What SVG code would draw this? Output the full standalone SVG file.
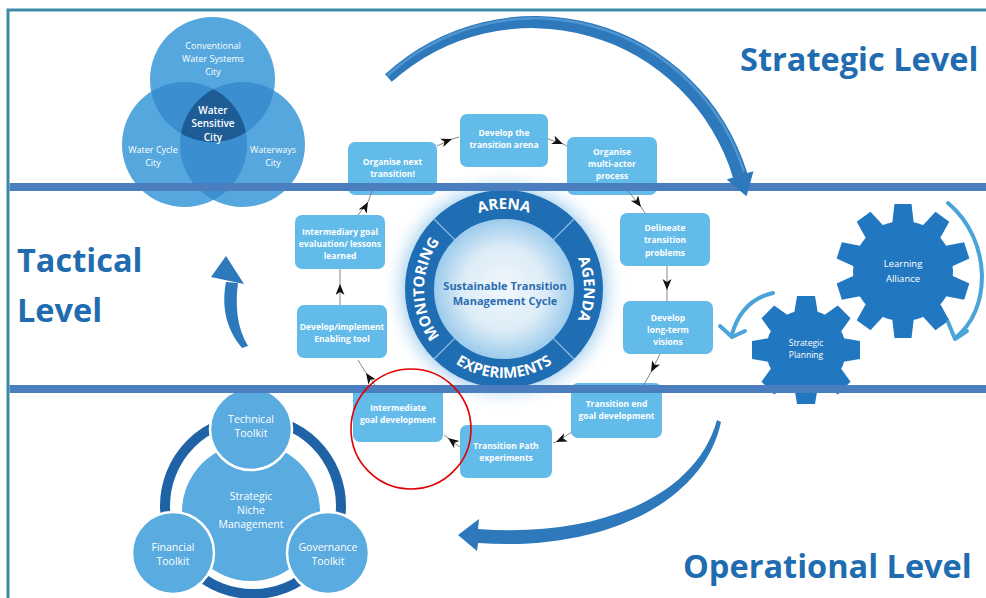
<svg xmlns="http://www.w3.org/2000/svg" xmlns:xlink="http://www.w3.org/1999/xlink" width="986" height="598" viewBox="0 0 986 598">
<style>
.box{fill:#63bbe9}
.bt{font-family:'Open Sans','Liberation Sans',Arial,sans-serif;font-size:8.5px;font-weight:700;fill:#fff;text-anchor:middle}
.wt{font-family:'Open Sans','Liberation Sans',Arial,sans-serif;fill:#fff;text-anchor:middle}
.lvl{font-family:'Open Sans','Liberation Sans',Arial,sans-serif;font-size:32.5px;font-weight:700;fill:#1f6cb0}
.ring{font-family:'Open Sans','Liberation Sans',Arial,sans-serif;font-size:15px;font-weight:700;fill:#fff}
.con{fill:none;stroke:#7a7a7a;stroke-width:0.9;marker-mid:url(#ah)}
.band{fill:#4a7ebf}
.big{fill:#2d79bc}
.gear{fill:#2278c0}
.lb{fill:none;stroke:#4aa3d9;stroke-width:4;stroke-linecap:round;stroke-linejoin:round}
.snm{fill:#5aabe0;stroke:#fff;stroke-width:2.5}
</style>
<defs>
<marker id="ah" markerUnits="userSpaceOnUse" markerWidth="12" markerHeight="10" refX="11" refY="4.5" orient="auto">
<path d="M0,0 L11,4.5 L0,9 L3,4.5 Z" fill="#111"/>
</marker>
<radialGradient id="glow" cx="504" cy="289" r="122" gradientUnits="userSpaceOnUse">
<stop offset="0.78" stop-color="#a9d2ef"/>
<stop offset="1" stop-color="#ffffff" stop-opacity="0"/>
</radialGradient>
<radialGradient id="disk" cx="504" cy="289" r="70" gradientUnits="userSpaceOnUse">
<stop offset="0" stop-color="#f2f8fc"/>
<stop offset="0.6" stop-color="#dcecf7"/>
<stop offset="1" stop-color="#9ccbec"/>
</radialGradient>
<clipPath id="cTop"><circle cx="212.5" cy="79.5" r="62.5"/></clipPath>
<clipPath id="cLeft"><circle cx="184.5" cy="144.5" r="62.5"/></clipPath>
<clipPath id="cRight"><circle cx="242.5" cy="144.5" r="62.5"/></clipPath>
<polygon id="tb" points="-11,-46 -8.5,-67 8.5,-67 11,-46"/>
<polygon id="ts" points="-12,-36 -9,-54 9,-54 12,-36"/>
<path id="pTop" d="M 424 289 A 80 80 0 0 1 584 289"/>
<path id="pRight" d="M 504 209 A 80 80 0 0 1 504 369"/>
<path id="pLeft" d="M 504 369 A 80 80 0 0 1 504 209"/>
<path id="pBot" d="M 415 289 A 89 89 0 0 0 593 289"/>
</defs>

<rect width="986" height="598" fill="#fff"/>
<path d="M 8 598 L 8 10 L 986 10" fill="none" stroke="#3a8aa8" stroke-width="3"/>

<g id="venn">
<circle cx="212.5" cy="79.5" r="62.5" fill="#55a7de"/>
<circle cx="184.5" cy="144.5" r="62.5" fill="#55a7de"/>
<circle cx="242.5" cy="144.5" r="62.5" fill="#55a7de"/>
<g clip-path="url(#cTop)"><circle cx="184.5" cy="144.5" r="62.5" fill="#3b8fd0"/><circle cx="242.5" cy="144.5" r="62.5" fill="#3b8fd0"/></g>
<g clip-path="url(#cLeft)"><circle cx="242.5" cy="144.5" r="62.5" fill="#3b8fd0"/></g>
<g clip-path="url(#cTop)"><g clip-path="url(#cLeft)"><circle cx="242.5" cy="144.5" r="62.5" fill="#1d5c94"/></g></g>
<text class="wt" font-size="9" x="213" y="49">Conventional</text>
<text class="wt" font-size="9" x="213" y="62">Water Systems</text>
<text class="wt" font-size="9" x="213" y="75">City</text>
<text class="wt" font-size="10" font-weight="600" x="213" y="114">Water</text>
<text class="wt" font-size="10" font-weight="600" x="213" y="127">Sensitive</text>
<text class="wt" font-size="10" font-weight="600" x="213" y="141">City</text>
<text class="wt" font-size="9" x="153" y="153">Water Cycle</text>
<text class="wt" font-size="9" x="153" y="166">City</text>
<text class="wt" font-size="9" x="273" y="153">Waterways</text>
<text class="wt" font-size="9" x="273" y="166">City</text>
</g>

<g id="cycle">
<circle cx="504" cy="289" r="122" fill="url(#glow)"/>
<circle cx="504" cy="289" r="70" fill="url(#disk)"/>
<circle cx="504" cy="289" r="84.5" fill="none" stroke="#1f6db2" stroke-width="29"/>
<g stroke="#8fc1e8" stroke-width="1.2">
<line x1="552.8" y1="337.8" x2="574" y2="359"/>
<line x1="455.2" y1="337.8" x2="434" y2="359"/>
<line x1="455.2" y1="240.2" x2="434" y2="219"/>
<line x1="552.8" y1="240.2" x2="574" y2="219"/>
</g>
<text class="ring" text-anchor="middle"><textPath href="#pTop" xlink:href="#pTop" startOffset="50%">ARENA</textPath></text>
<text class="ring" text-anchor="middle"><textPath href="#pRight" xlink:href="#pRight" startOffset="50%">AGENDA</textPath></text>
<text class="ring" text-anchor="middle"><textPath href="#pLeft" xlink:href="#pLeft" startOffset="50%">MONITORING</textPath></text>
<text class="ring" text-anchor="middle"><textPath href="#pBot" xlink:href="#pBot" startOffset="50%">EXPERIMENTS</textPath></text>
<text font-family="'Open Sans','Liberation Sans',Arial,sans-serif" font-size="11" font-weight="700" fill="#2a6db0" text-anchor="middle" x="505" y="290">Sustainable Transition</text>
<text font-family="'Open Sans','Liberation Sans',Arial,sans-serif" font-size="11" font-weight="700" fill="#2a6db0" text-anchor="middle" x="505" y="305">Management Cycle</text>
</g>

<g id="n-arena"><rect class="box" x="460" y="114" width="88" height="53" rx="7"/><text class="bt" x="504" y="136">Develop the</text><text class="bt" x="504" y="148">transition arena</text></g>
<g id="n-multi"><rect class="box" x="567" y="137" width="90" height="58" rx="7"/><text class="bt" x="612" y="155">Organise</text><text class="bt" x="612" y="167">multi-actor</text><text class="bt" x="612" y="179">process</text></g>
<g id="n-next"><rect class="box" x="348" y="142" width="89" height="53" rx="7"/><text class="bt" x="392.5" y="165">Organise next</text><text class="bt" x="392.5" y="177">transition!</text></g>
<g id="n-eval"><rect class="box" x="295" y="215" width="90" height="54" rx="7"/><text class="bt" x="340" y="235">Intermediary goal</text><text class="bt" x="340" y="247">evaluation/ lessons</text><text class="bt" x="340" y="259">learned</text></g>
<g id="n-tool"><rect class="box" x="297" y="305" width="90" height="53" rx="7"/><text class="bt" x="342" y="330">Develop/implement</text><text class="bt" x="342" y="342">Enabling tool</text></g>
<g id="n-delin"><rect class="box" x="620" y="213" width="90" height="53" rx="7"/><text class="bt" x="665" y="231">Delineate</text><text class="bt" x="665" y="243">transition</text><text class="bt" x="665" y="256">problems</text></g>
<g id="n-vision"><rect class="box" x="623" y="301" width="90" height="53" rx="7"/><text class="bt" x="668" y="321">Develop</text><text class="bt" x="668" y="333">long-term</text><text class="bt" x="668" y="345">visions</text></g>
<g id="n-endgoal"><rect class="box" x="571" y="383" width="91" height="55" rx="7"/><text class="bt" x="616.5" y="407">Transition end</text><text class="bt" x="616.5" y="419">goal development</text></g>
<g id="n-path"><rect class="box" x="460" y="425" width="92" height="53" rx="7"/><text class="bt" x="506" y="449">Transition Path</text><text class="bt" x="506" y="461">experiments</text></g>
<g id="n-inter"><rect class="box" x="353" y="386" width="90" height="56" rx="7"/><text class="bt" x="398" y="411">Intermediate</text><text class="bt" x="398" y="423">goal development</text></g>

<g id="connectors">
<path class="con" d="M437 146 L452 139 L459 137"/>
<path class="con" d="M548 139 L563 144 L567 146"/>
<path class="con" d="M628 191 L641 207 L645 213"/>
<path class="con" d="M667 266 L667 290 L667 301"/>
<path class="con" d="M660 354 L651 372 L642 388"/>
<path class="con" d="M572 432 L556 442 L553 443"/>
<path class="con" d="M460 447 L448 438 L444 435"/>
<path class="con" d="M378 389 L366 373 L358 360"/>
<path class="con" d="M340 305 L340 284 L340 269"/>
<path class="con" d="M358 215 L368 202 L372 191"/>
</g>

<g id="gears">
<g id="g-learning" transform="translate(903,271)">
<circle r="50" class="gear"/>
<g class="gear">
<use href="#tb" xlink:href="#tb"/>
<use href="#tb" xlink:href="#tb" transform="rotate(36)"/>
<use href="#tb" xlink:href="#tb" transform="rotate(72)"/>
<use href="#tb" xlink:href="#tb" transform="rotate(108)"/>
<use href="#tb" xlink:href="#tb" transform="rotate(144)"/>
<use href="#tb" xlink:href="#tb" transform="rotate(180)"/>
<use href="#tb" xlink:href="#tb" transform="rotate(216)"/>
<use href="#tb" xlink:href="#tb" transform="rotate(252)"/>
<use href="#tb" xlink:href="#tb" transform="rotate(288)"/>
<use href="#tb" xlink:href="#tb" transform="rotate(324)"/>
</g>
<text class="wt" font-size="9.5" x="0" y="-4">Learning</text>
<text class="wt" font-size="9.5" x="0" y="11">Alliance</text>
</g>
<g id="g-planning" transform="translate(806,350)">
<circle r="40" class="gear"/>
<g class="gear">
<use href="#ts" xlink:href="#ts"/>
<use href="#ts" xlink:href="#ts" transform="rotate(45)"/>
<use href="#ts" xlink:href="#ts" transform="rotate(90)"/>
<use href="#ts" xlink:href="#ts" transform="rotate(135)"/>
<use href="#ts" xlink:href="#ts" transform="rotate(180)"/>
<use href="#ts" xlink:href="#ts" transform="rotate(225)"/>
<use href="#ts" xlink:href="#ts" transform="rotate(270)"/>
<use href="#ts" xlink:href="#ts" transform="rotate(315)"/>
</g>
<text class="wt" font-size="8.5" x="0" y="-4">Strategic</text>
<text class="wt" font-size="8.5" x="0" y="8">Planning</text>
</g>
<g id="g-arrows">
<path class="lb" d="M 773 293 Q 742 300 732 334"/>
<path class="lb" d="M 720 326 L 732 337 L 745 331"/>
<path class="lb" d="M 948 203 C 992 240 992 310 955 338"/>
<path class="lb" d="M 948 322 L 955 339 L 967 331"/>
</g>
</g>

<g id="snm">
<circle cx="253" cy="506" r="88" fill="none" stroke="#1f63a6" stroke-width="10"/>
<circle cx="251" cy="512" r="69" fill="#5aabe0"/>
<circle cx="251" cy="429" r="41" class="snm"/>
<circle cx="173" cy="553" r="41" class="snm"/>
<circle cx="328" cy="553" r="41" class="snm"/>
<text class="wt" font-size="10.5" x="251" y="500">Strategic</text>
<text class="wt" font-size="10.5" x="251" y="514">Niche</text>
<text class="wt" font-size="10.5" x="251" y="528">Management</text>
<text class="wt" font-size="10.5" x="251" y="423">Technical</text>
<text class="wt" font-size="10.5" x="251" y="437">Toolkit</text>
<text class="wt" font-size="10.5" x="173" y="551">Financial</text>
<text class="wt" font-size="10.5" x="173" y="565">Toolkit</text>
<text class="wt" font-size="10.5" x="328" y="551">Governance</text>
<text class="wt" font-size="10.5" x="328" y="565">Toolkit</text>
</g>

<g id="bands">
<rect class="band" x="9.5" y="183" width="976.5" height="8"/>
<rect class="band" x="9.5" y="385" width="976.5" height="8"/>
</g>

<g id="big-arrows">
<path class="big" d="M 385 74.3 A 222 222 0 0 1 747.3 173.1 L 753.5 171.2 L 746.5 196.3 L 726.7 179.4 L 733 177.5 A 210 210 0 0 0 391.8 81.7 Z"/>
<path d="M 387 76 A 219 219 0 0 1 744 172" fill="none" stroke="#4f95d0" stroke-width="2.5"/>
<path class="big" d="M 721 422 C 704 503 602 552 478 543 L 477 551 L 458 535 L 479 519 L 478 529 C 598 538 696 497 717 420 Z"/>
<path class="big" d="M 226 282 C 221 308 227 330 242 348 L 248 346 C 237 328 235 306 238 283 Z"/>
<polygon class="big" points="226,256 244,284 211,277"/>
</g>

<g id="levels">
<text class="lvl" x="740" y="71">Strategic Level</text>
<text class="lvl" x="17" y="272" font-size="33.5">Tactical</text>
<text class="lvl" x="17" y="322" font-size="33.5">Level</text>
<text class="lvl" x="683" y="578">Operational Level</text>
</g>

<circle cx="411" cy="429" r="60" fill="none" stroke="#e00000" stroke-width="1.6"/>
</svg>
